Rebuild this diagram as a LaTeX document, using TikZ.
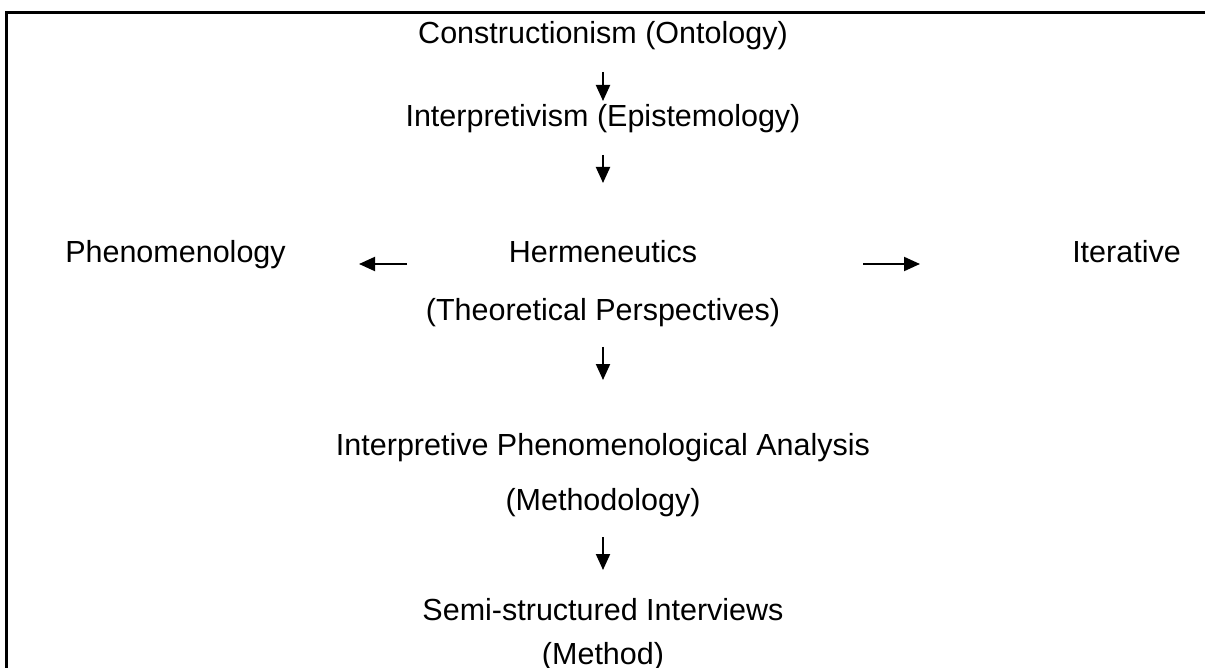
\documentclass[tikz,border=0pt]{standalone}
\usepackage{fontspec}
\setmainfont{Liberation Sans}
\usetikzlibrary{arrows.meta}
\tikzset{
  lbl/.style={anchor=base, inner sep=0pt, font=\fontsize{30.5}{36}\selectfont},
  arr/.style={line width=2pt, -{Triangle[width=14pt,length=16pt]}},
  frame/.style={line width=3pt}
}
\begin{document}
\begin{tikzpicture}[x=1pt,y=-1pt]
\useasboundingbox (0,0) rectangle (1205,668);
\draw[frame] (6.5,670) -- (6.5,13) -- (1207,13);
\node[lbl] (c) at (603,44) {Constructionism (Ontology)};
\node[lbl] (i) at (603,127) {Interpretivism (Epistemology)};
\node[lbl] (ph) at (175.5,263) {Phenomenology};
\node[lbl] (h) at (603,263) {Hermeneutics};
\node[lbl] (it) at (1126.5,263) {Iterative};
\node[lbl] (tp) at (603,320) {(Theoretical Perspectives)};
\node[lbl] (ipa) at (603,455) {Interpretive Phenomenological Analysis};
\node[lbl] (m) at (603,510) {(Methodology)};
\node[lbl] (ssi) at (603,620) {Semi-structured Interviews};
\node[lbl] (me) at (603,664) {(Method)};
\coordinate (a1s) at (603,72);  \coordinate (a1e) at (603,101);
\coordinate (a2s) at (603,155); \coordinate (a2e) at (603,183);
\coordinate (a3s) at (603,347); \coordinate (a3e) at (603,380);
\coordinate (a4s) at (603,537); \coordinate (a4e) at (603,570);
\coordinate (l1s) at (407,264); \coordinate (l1e) at (359,264);
\coordinate (r1s) at (863,264); \coordinate (r1e) at (920,264);
\draw[arr] (a1s) -- (a1e);
\draw[arr] (a2s) -- (a2e);
\draw[arr] (a3s) -- (a3e);
\draw[arr] (a4s) -- (a4e);
\draw[arr] (l1s) -- (l1e);
\draw[arr] (r1s) -- (r1e);
\end{tikzpicture}
\end{document}
